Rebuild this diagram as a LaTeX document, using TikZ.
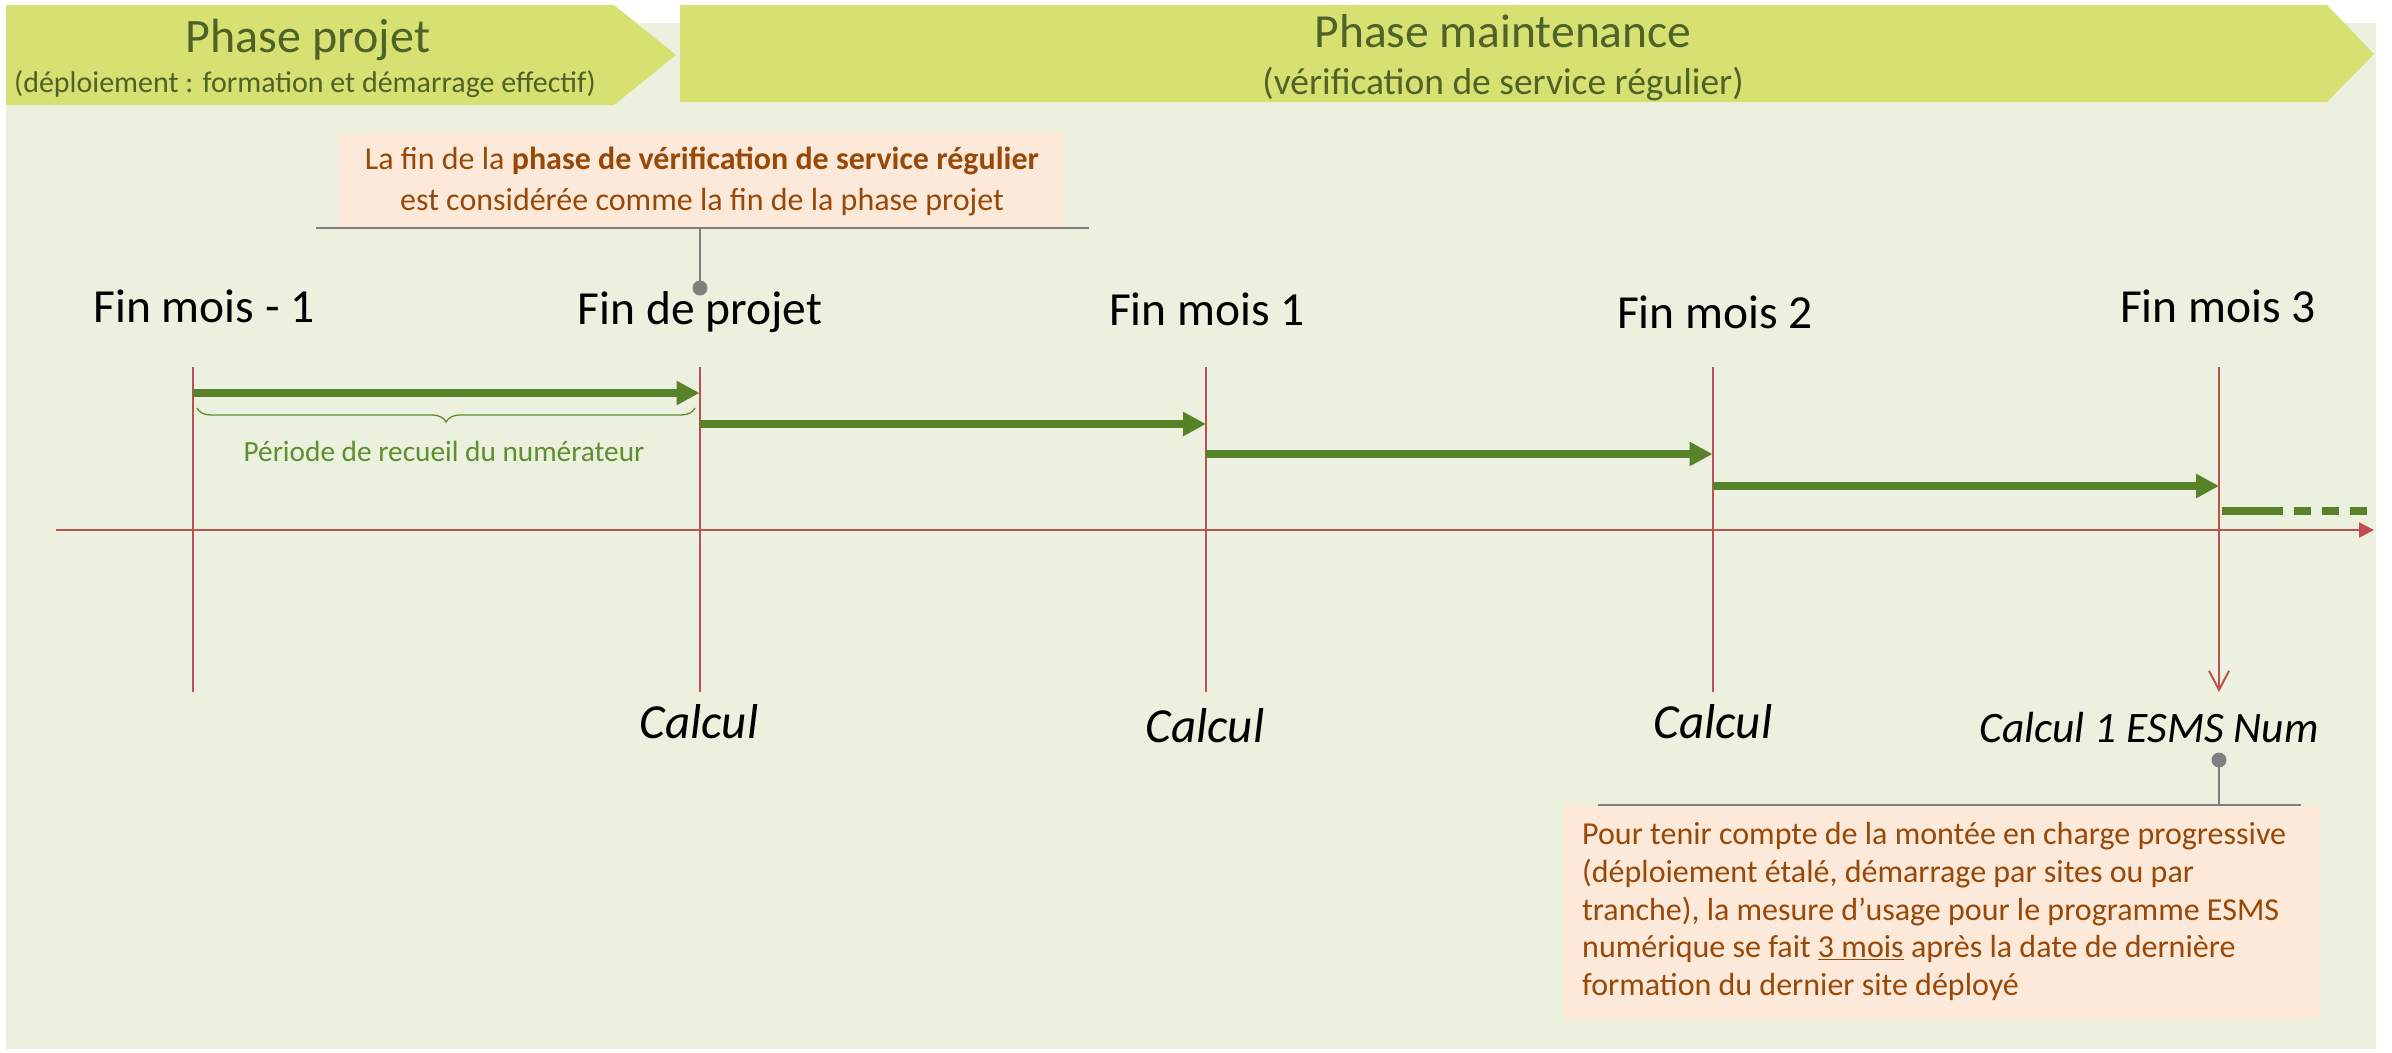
\documentclass[tikz,border=0pt]{standalone}
\usepackage{fontspec}
\setmainfont{Carlito}
\usetikzlibrary{arrows.meta,decorations.pathreplacing}
\definecolor{bgc}{HTML}{EBF1DE}
\definecolor{chev}{RGB}{214,225,113}
\definecolor{chevtext}{HTML}{4F6228}
\definecolor{redc}{HTML}{C0504D}
\definecolor{garr}{RGB}{87,130,40}
\definecolor{gtext}{RGB}{95,142,45}
\definecolor{peach}{HTML}{FDE9D9}
\definecolor{brown}{HTML}{984807}
\definecolor{grayc}{HTML}{7F7F7F}
\begin{document}
\begin{tikzpicture}[x=1pt,y=-1pt,
  ttl/.style={font=\fontsize{48}{57}\selectfont, text=chevtext, inner sep=0, anchor=base},
  subttl/.style={text=chevtext, inner sep=0, anchor=base},
  lab/.style={font=\fontsize{47.5}{57}\selectfont, inner sep=0, anchor=base},
  calc/.style={font=\fontsize{49}{58}\selectfont\itshape, inner sep=0, anchor=base},
  tick/.style={draw=redc, line width=2pt},
  axis/.style={draw=redc, line width=2.5pt, -{Triangle[length=15pt,width=15pt]}},
  garrow/.style={draw=garr, line width=8pt, -{Triangle[length=23pt,width=23pt]}},
  callout/.style={draw=grayc, line width=2pt},
  note/.style={text=brown, inner sep=0},
]
\useasboundingbox (0,0) rectangle (2392,1052);
\fill[white] (0,0) rectangle (2392,1052);
\fill[bgc] (6,23) rectangle (2376,1049);

% chevrons
\fill[chev] (6,5) -- (614,5) -- (676,55) -- (614,105) -- (6,105) -- cycle;
\fill[chev] (680,5) -- (2327,5) -- (2374,54) -- (2327,102) -- (680,102) -- cycle;
\node[ttl] (pp) at (308,52) {Phase projet};
\node[subttl, font=\fontsize{30}{36}\selectfont] (pps) at (305,92) {(déploiement : formation et démarrage effectif)};
\node[ttl, font=\fontsize{47.5}{57}\selectfont] (pm) at (1503,47) {Phase maintenance};
\node[subttl, font=\fontsize{37.5}{45}\selectfont] (pms) at (1503,94) {(vérification de service régulier)};

% top note
\fill[peach] (339,132) rectangle (1065,228);
\node[note, font=\fontsize{32}{38}\selectfont, anchor=base] (n1a) at (702,169) {La fin de la \textbf{phase de vérification de service régulier}};
\node[note, font=\fontsize{32}{38}\selectfont, anchor=base] (n1b) at (702,210) {est considérée comme la fin de la phase projet};
\coordinate (c1l) at (316,228);
\coordinate (c1r) at (1089,228);
\coordinate (c1m) at (700,228);
\coordinate (c1d) at (700,288);
\draw[callout] (c1l) -- (c1r);
\draw[callout] (c1m) -- (c1d);
\fill[grayc] (c1d) circle (7.5);

% ticks
\foreach \i/\x in {0/193,1/699.5,2/1206,3/1712.5,4/2219}{
  \coordinate (t\i) at (\x,367);
  \coordinate (b\i) at (\x,692);
}
\draw[tick] (t0) -- (b0);
\draw[tick] (t1) -- (b1);
\draw[tick] (t2) -- (b2);
\draw[tick] (t3) -- (b3);
\draw[tick, -{Straight Barb[length=19pt,width=20pt]}] (t4) -- (b4);

% axis
\coordinate (ax0) at (56,530);
\coordinate (ax1) at (2374,530);
\draw[axis] (ax0) -- (ax1);

% labels
\node[lab] (l0) at (204,322) {Fin mois - 1};
\node[lab] (l1) at (700,324) {Fin de projet};
\node[lab] (l2) at (1207,325) {Fin mois 1};
\node[lab] (l3) at (1715,328) {Fin mois 2};
\node[lab] (l4) at (2218,322) {Fin mois 3};

% green arrows
\coordinate (g0s) at (193,393);   \coordinate (g0e) at (699.5,393);
\coordinate (g1s) at (699.5,424); \coordinate (g1e) at (1206,424);
\coordinate (g2s) at (1206,454);  \coordinate (g2e) at (1712.5,454);
\coordinate (g3s) at (1712.5,486);\coordinate (g3e) at (2219,486);
\coordinate (g4s) at (2222,511);  \coordinate (g4e) at (2367,511);
\draw[garrow] (g0s) -- (g0e);
\draw[garrow] (g1s) -- (g1e);
\draw[garrow] (g2s) -- (g2e);
\draw[garrow] (g3s) -- (g3e);
\draw[draw=garr, line width=8pt, dash pattern=on 61pt off 11pt on 17pt off 11pt on 17pt off 11pt on 17pt] (g4s) -- (g4e);

% brace
\coordinate (br0) at (197,408);
\coordinate (br1) at (695,408);
\draw[draw=gtext, line width=1.3pt, decorate, decoration={brace, mirror, amplitude=14pt}] (br0) -- (br1);
\node[text=gtext, font=\fontsize{29.3}{35}\selectfont, inner sep=0, anchor=base] (per) at (444,461) {Période de recueil du numérateur};

% calcul labels
\node[calc] (k1) at (699,738) {Calcul};
\node[calc] (k2) at (1205,742) {Calcul};
\node[calc] (k3) at (1713,738) {Calcul};
\node[calc, font=\fontsize{43.5}{52}\selectfont\itshape] (k4) at (2149,742) {Calcul 1 ESMS Num};

% bottom note
\fill[peach] (1562,805) rectangle (2320,1019);
\coordinate (c2l) at (1598,805);
\coordinate (c2r) at (2301,805);
\coordinate (c2m) at (2219,805);
\coordinate (c2d) at (2219,760);
\draw[callout] (c2l) -- (c2r);
\draw[callout] (c2m) -- (c2d);
\fill[grayc] (c2d) circle (7.5);
\node[note, font=\fontsize{32}{37.8}\selectfont, align=left, anchor=north west] (n2) at (1582,822)
 {Pour tenir compte de la montée en charge progressive\\
  (déploiement étalé, démarrage par sites ou par\\
  tranche), la mesure d’usage pour le programme ESMS\\
  numérique se fait \underline{3 mois} après la date de dernière\\
  formation du dernier site déployé};
\end{tikzpicture}
\end{document}
